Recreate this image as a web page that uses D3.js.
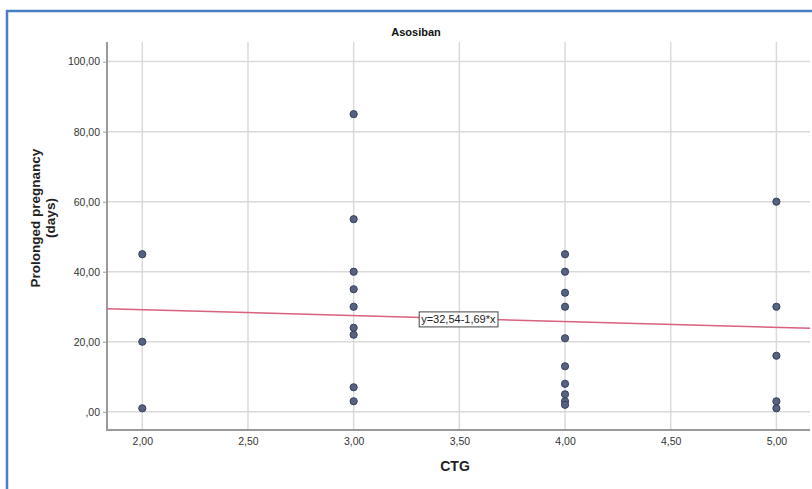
<!DOCTYPE html>
<html>
<head>
<meta charset="utf-8">
<script src="https://cdn.jsdelivr.net/npm/d3@7"></script>
<style>
  body { margin:0; background:#fff; }
  svg { display:block; font-family:"Liberation Sans", Arial, sans-serif; }
</style>
</head>
<body>
<div id="chart"></div>
<script>
const width = 812
const height = 489
const margin = {top:42, bottom:59, left:107, right:2}

// data
const ctg = [2,2,2, 3,3,3,3,3,3,3,3,3, 4,4,4,4,4,4,4,4,4,4, 5,5,5,5,5]
const days = [45,20,1, 85,55,40,35,30,24,22,7,3, 45,40,34,30,21,13,8,5,3,2, 60,30,16,3,1]
const xTicks = [2,2.5,3,3.5,4,4.5,5]
const yTicks = [0,20,40,60,80,100]
const fitA = 32.54
const fitB = -1.69
const fitLabel = "y=32,54-1,69*x"
const title = "Asosiban"

const data = ctg.map((c,i) => ({x:c, y:days[i]}))

const svg = d3.select("div#chart").append("svg").attr("width",width).attr("height",height)

// blue frame
svg.append("rect").attr("x",7).attr("y",11).attr("width",width).attr("height",height)
    .attr("fill","none").attr("stroke","#4a7ec4").attr("stroke-width",2.5)

const innerW = width - margin.left - margin.right
const innerH = height - margin.top - margin.bottom

const x = d3.scaleLinear().domain([1.833,5.159]).range([0,innerW])
const y = d3.scaleLinear().domain([-5.2,105.6]).range([innerH,0])

const g = svg.append("g").attr("transform",`translate(${margin.left},${margin.top})`)

// grid
g.append("g").selectAll("line").data(yTicks).join("line")
    .attr("x1",0).attr("x2",innerW)
    .attr("y1",d => y(d)).attr("y2",d => y(d))
    .attr("stroke","#dadada").attr("stroke-width",1.5)
g.append("g").selectAll("line").data(xTicks).join("line")
    .attr("x1",d => x(d)).attr("x2",d => x(d))
    .attr("y1",0).attr("y2",innerH)
    .attr("stroke","#dadada").attr("stroke-width",1.5)

const fmt = d => d3.format(".2f")(d).replace(".",",").replace(/^0,/,",")

const xAxis = d3.axisBottom(x).tickValues(xTicks).tickFormat(fmt).tickSize(0).tickPadding(8)
const yAxis = d3.axisLeft(y).tickValues(yTicks).tickFormat(fmt).tickSize(4).tickPadding(3)

const xAxisGroup = g.append("g").attr("transform",`translate(0,${innerH})`).call(xAxis)
const yAxisGroup = g.append("g").call(yAxis)

;[xAxisGroup,yAxisGroup].forEach(a => {
    a.select(".domain").attr("stroke","#9a9a9a").attr("stroke-width",2)
    a.selectAll(".tick line").attr("stroke","#9a9a9a")
    a.selectAll("text").attr("fill","#333").attr("font-size",10.5)
})
yAxisGroup.select(".domain").attr("d",`M0,0V${innerH}H1`)
xAxisGroup.select(".domain").attr("d",`M0,0H${innerW}`)

// fit line
const fx = x.domain()
g.append("line")
    .attr("x1",x(fx[0])).attr("y1",y(fitA + fitB*fx[0]))
    .attr("x2",x(fx[1])).attr("y2",y(fitA + fitB*fx[1]))
    .attr("stroke","#d9607e").attr("stroke-width",1.5)

// points
g.append("g").selectAll("circle").data(data).join("circle")
    .attr("cx",d => x(d.x)).attr("cy",d => y(d.y)).attr("r",3.6)
    .attr("fill","#56627f").attr("stroke","#35405a").attr("stroke-width",1)

// fit label
const lx = 3.5, ly = fitA + fitB*3.5
const lab = g.append("g").attr("transform",`translate(${x(lx)-1},${y(ly)+1})`)
const lt = lab.append("text").text(fitLabel).attr("font-size",11).attr("fill","#222")
    .attr("text-anchor","middle").attr("dy","0.35em")
const bb = lt.node().getBBox()
lab.insert("rect","text").attr("x",bb.x-2).attr("y",bb.y-1.5).attr("width",bb.width+4).attr("height",bb.height+3)
    .attr("fill","#fff").attr("stroke","#444").attr("stroke-width",1)

// titles
svg.append("text").attr("x",416).attr("y",36).attr("text-anchor","middle")
    .attr("font-size",11).attr("font-weight","bold").attr("font-family","'Liberation Sans Narrow', 'Liberation Sans', Arial").attr("fill","#111").text(title)
svg.append("text").attr("x",455).attr("y",471).attr("text-anchor","middle")
    .attr("font-size",14).attr("font-weight","bold").attr("fill","#222").text("CTG")
const yl = svg.append("text").attr("transform","translate(40,218) rotate(-90)")
    .attr("text-anchor","middle").attr("font-size",13.5).attr("font-weight","bold").attr("fill","#222")
yl.append("tspan").attr("x",0).attr("dy",0).text("Prolonged pregnancy")
yl.append("tspan").attr("x",0).attr("dy",15).text("(days)")
</script>
</body>
</html>
